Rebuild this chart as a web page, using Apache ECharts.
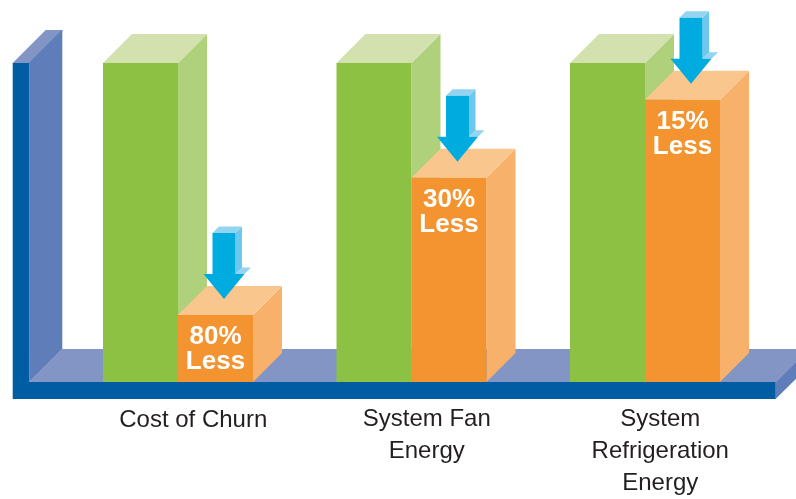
<!DOCTYPE html>
<html>
<head>
<meta charset="utf-8">
<style>html,body{margin:0;padding:0;background:#fff}#c{width:796px;height:499px}</style>
<script src="https://cdn.jsdelivr.net/npm/echarts@6/dist/echarts.min.js"></script>
</head>
<body>
<div id="c"></div>
<script>
const categories = ['{a|Cost of Churn}', 'System Fan\nEnergy', 'System\nRefrigeration\nEnergy'];
const baseline = [100, 100, 100];
const reduced = [21, 64, 88.5];
const badges = ['80%\nLess', '30%\nLess', '15%\nLess'];

const DEPTH = 29, BARW = 75, GREEN_OFF = -90.25, ORANGE_OFF = -15.25;
const C = {
  wallFront: '#005da4', wallSide: '#5f7db8', floor: '#8395c5',
  gF: '#8dc143', gS: '#afd17c', gT: '#d2e1ae',
  oF: '#f39430', oS: '#f7b16b', oT: '#f9c68e',
  aF: '#00abe0', aS: '#6dc8ee', aT: '#93d4f1'
};
const poly = (points, fill, extra) => ({type:'polygon', shape:{points}, style:Object.assign({fill}, extra||{}), silent:true});

function box(x, top, base, colors) {
  const x2 = x + BARW, d = DEPTH;
  return [
    poly([[x2,top],[x2+d,top-d],[x2+d,base-d],[x2,base]], colors[1]),
    poly([[x,top],[x2,top],[x2+d,top-d],[x+d,top-d]], colors[2]),
    poly([[x,top],[x2,top],[x2,base],[x,base]], colors[0])
  ];
}
function renderFrame(params, api) {
  const base = api.coord([0,0])[1], top = api.coord([0,100])[1];
  const L = 12.7, W = 29.3, S = 62.3, R = 775.7, B = base + 17;
  const dy = 33;
  return {type:'group', children:[
    poly([[W,base],[R,base],[R+dy,base-dy],[S,base-dy]], C.floor),
    poly([[R,base],[R,B],[R+dy,B-dy],[R+dy,base-dy]], C.wallSide),
    poly([[W,top],[S,top-dy],[S,base-dy],[W,base]], C.wallSide),
    poly([[L,top],[W,top],[S,top-dy],[S-16.6,top-dy]], C.floor),
    poly([[L,top],[W,top],[W,base],[R,base],[R,B],[L,B]], C.wallFront),
    {type:'line', shape:{x1:W,y1:top,x2:S,y2:top-dy}, style:{stroke:'#3f7fbb',lineWidth:1}, silent:true}
  ]};
}
function renderGreen(params, api) {
  const c = api.coord([api.value(0), api.value(1)]), b = api.coord([api.value(0), 0]);
  return {type:'group', children: box(c[0]+GREEN_OFF, c[1], b[1], [C.gF,C.gS,C.gT])};
}
function renderOrange(params, api) {
  const c = api.coord([api.value(0), api.value(1)]), b = api.coord([api.value(0), 0]);
  return {type:'group', children: box(c[0]+ORANGE_OFF, c[1], b[1], [C.oF,C.oS,C.oT])};
}
function renderArrow(params, api) {
  const c = api.coord([api.value(0), api.value(1)]);
  const xFront = c[0] + ORANGE_OFF;
  const tx = xFront + 46, ty = c[1] - 16;
  const hy = ty - 25, sy = ty - 66, o = 6.5;
  const s1 = tx - 11.5, s2 = tx + 11.5, h1 = tx - 20.5, h2 = tx + 20.5;
  return {type:'group', children:[
    poly([[s2,hy],[s2+o,hy-o],[h2+o,hy-o],[h2,hy]], C.aT),
    poly([[s2,sy],[s2+o,sy-o],[s2+o,hy-o],[s2,hy]], C.aS),
    poly([[s1,sy],[s2,sy],[s2+o,sy-o],[s1+o,sy-o]], C.aT),
    poly([[s1,sy],[s2,sy],[s2,hy],[h2,hy],[tx,ty],[h1,hy],[s1,hy]], C.aF),
    {type:'text', silent:true, style:{
      text: badges[params.dataIndex], x: xFront + BARW/2, y: c[1] + 34.5,
      align:'center', verticalAlign:'middle',
      fill:'#fff', font:'bold 26px "Liberation Sans"', lineHeight:24.5
    }}
  ]};
}
const idx = categories.map((_, i) => i);
const chart = echarts.init(document.getElementById('c'), null, {renderer:'canvas'});
chart.setOption({
  animation:false,
  backgroundColor:'#fff',
  grid:{left:76.5, top:63, width:700.5, height:323, containLabel:false},
  xAxis:{
    type:'category', data:categories, boundaryGap:true,
    axisLine:{show:false}, axisTick:{show:false}, splitLine:{show:false},
    z:10,
    axisLabel:{
      interval:0, margin:21, hideOverlap:false,
      fontFamily:'Liberation Sans', fontSize:24, lineHeight:32, color:'#231f20',
      verticalAlign:'top',
      rich:{a:{fontFamily:'Liberation Sans', fontSize:24, lineHeight:32, color:'#231f20', padding:[3,0,0,0]}}
    }
  },
  yAxis:{type:'value', min:0, max:100, show:false},
  series:[
    {type:'custom', z:1, renderItem:renderFrame, clip:false, data:[[0,0]], encode:{x:0,y:1}, silent:true},
    {type:'custom', z:2, renderItem:renderGreen, clip:false, data:idx.map(i=>[i,baseline[i]]), encode:{x:0,y:1}, silent:true},
    {type:'custom', z:3, renderItem:renderOrange, clip:false, data:idx.map(i=>[i,reduced[i]]), encode:{x:0,y:1}, silent:true},
    {type:'custom', z:4, renderItem:renderArrow, clip:false, data:idx.map(i=>[i,reduced[i]]), encode:{x:0,y:1}, silent:true}
  ]
});
</script>
</body>
</html>
